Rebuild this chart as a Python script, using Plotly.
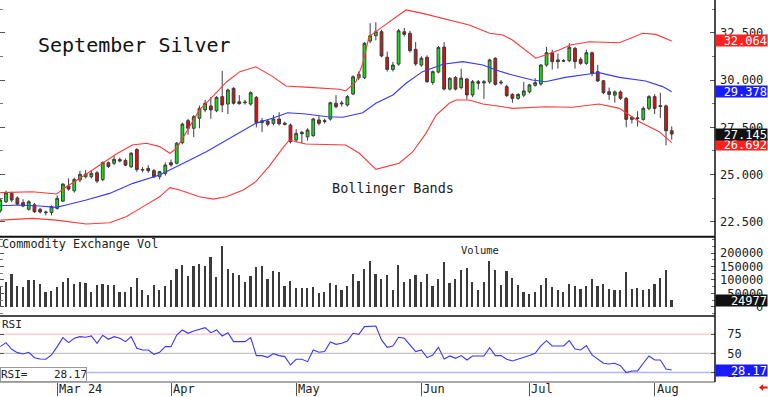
import plotly.graph_objects as go

# ---------------- data ----------------
open_ = [23.10, 23.57, 24.01, 23.77, 23.52, 23.17, 23.41, 23.17, 22.99, 23.00,
         23.22, 23.60, 24.40, 24.15, 24.72, 24.89, 24.89, 25.10, 24.74, 25.63,
         25.60, 25.80, 25.75, 25.42, 26.33, 25.24, 25.33, 25.21, 24.89, 25.07,
         25.63, 25.60, 26.69, 27.85, 27.45, 27.98, 28.42, 28.63, 28.38, 29.12,
         28.73, 29.56, 28.85, 28.80, 28.73, 29.08, 27.75, 27.83, 27.71, 27.94,
         27.72, 27.62, 26.83, 27.24, 27.00, 27.06, 27.89, 27.80, 27.94, 28.77,
         28.74, 28.68, 29.26, 30.12, 30.12, 32.06, 32.34, 32.55, 31.20, 30.56,
         30.84, 32.55, 32.47, 31.62, 30.79, 31.20, 29.87, 30.42, 31.74, 29.52,
         30.13, 29.60, 30.05, 29.21, 29.91, 29.84, 29.90, 31.15, 29.84, 29.65,
         29.24, 29.03, 29.20, 29.38, 29.72, 29.79, 30.79, 31.44, 31.06, 31.03,
         31.02, 31.67, 31.09, 30.88, 31.44, 30.44, 29.96, 29.38, 29.20, 29.37,
         29.03, 27.92, 28.00, 27.92, 28.50, 29.12, 28.65, 28.63, 27.32]
high = [23.75, 24.15, 24.10, 23.85, 23.70, 23.65, 23.50, 23.25, 23.10, 23.38,
        23.90, 24.55, 24.80, 24.85, 25.20, 25.25, 25.20, 25.20, 25.70, 25.70,
        25.98, 25.90, 25.85, 26.20, 26.40, 25.40, 25.50, 25.30, 25.20, 25.65,
        25.80, 26.72, 27.75, 27.95, 28.15, 28.65, 28.95, 29.10, 29.15, 30.48,
        29.55, 29.62, 29.20, 28.95, 29.40, 29.15, 28.00, 27.90, 28.15, 28.30,
        27.80, 27.70, 27.40, 27.30, 27.45, 28.00, 28.10, 27.95, 28.85, 29.20,
        28.90, 29.20, 30.25, 30.45, 32.00, 33.00, 33.05, 32.65, 31.50, 30.95,
        32.70, 32.75, 32.60, 32.00, 31.25, 31.30, 30.50, 31.80, 32.00, 30.15,
        30.20, 30.60, 30.10, 30.00, 30.00, 30.00, 31.12, 31.20, 30.00, 29.75,
        29.30, 29.30, 29.90, 29.80, 30.10, 30.85, 31.75, 31.60, 31.40, 31.10,
        31.95, 31.75, 31.20, 31.60, 31.50, 30.80, 30.00, 29.60, 29.45, 29.45,
        29.10, 28.10, 28.35, 28.60, 29.20, 29.25, 29.32, 28.70, 27.55]
low = [23.00, 23.50, 23.55, 23.40, 23.28, 23.10, 22.98, 22.95, 22.85, 22.85,
       23.15, 23.55, 24.15, 24.05, 24.60, 24.80, 24.80, 24.55, 24.65, 25.35,
       25.50, 25.65, 25.45, 25.35, 25.15, 25.12, 25.10, 24.82, 24.75, 24.95,
       25.42, 25.55, 26.60, 27.10, 26.98, 27.45, 28.30, 27.95, 28.30, 28.30,
       28.20, 28.70, 28.70, 28.70, 28.65, 27.50, 27.25, 27.55, 27.60, 27.60,
       27.60, 26.65, 26.70, 26.65, 26.80, 27.00, 27.60, 27.70, 27.85, 28.50,
       28.60, 28.60, 29.20, 30.00, 30.05, 31.95, 32.10, 31.20, 30.45, 30.45,
       30.75, 32.30, 31.45, 30.75, 30.70, 29.85, 29.75, 30.35, 29.45, 29.45,
       29.45, 29.50, 28.98, 29.10, 29.50, 29.00, 29.80, 29.70, 29.75, 29.10,
       28.80, 28.95, 29.10, 29.30, 29.65, 29.70, 30.70, 30.55, 30.60, 30.95,
       30.95, 30.60, 30.80, 30.80, 30.20, 29.90, 29.25, 28.95, 28.80, 28.95,
       27.50, 27.70, 27.55, 27.85, 28.40, 28.20, 28.00, 26.55, 26.85]
close = [23.66, 24.05, 23.66, 23.45, 23.34, 23.57, 23.04, 23.03, 23.02, 23.31,
         23.75, 24.50, 24.24, 24.75, 25.02, 25.03, 25.07, 24.66, 25.64, 25.43,
         25.81, 25.72, 25.50, 26.13, 25.27, 25.27, 25.21, 24.89, 25.16, 25.51,
         25.51, 26.66, 27.67, 27.45, 28.06, 28.50, 28.77, 28.42, 29.08, 28.68,
         29.47, 28.77, 28.75, 28.83, 29.33, 27.75, 27.85, 27.66, 27.94, 27.69,
         27.66, 26.74, 27.18, 27.16, 27.36, 27.94, 27.71, 27.85, 28.80, 28.59,
         28.78, 29.12, 30.17, 30.30, 31.94, 32.34, 32.55, 31.27, 30.56, 30.79,
         32.60, 32.41, 31.55, 30.85, 31.15, 29.91, 30.44, 31.72, 29.52, 30.09,
         29.52, 30.10, 29.21, 29.91, 29.83, 29.91, 31.06, 29.77, 29.88, 29.18,
         29.03, 29.24, 29.42, 29.74, 29.86, 30.79, 31.44, 30.97, 30.97, 31.00,
         31.73, 30.97, 30.88, 31.44, 30.35, 29.95, 29.33, 29.24, 29.37, 29.03,
         27.92, 28.03, 27.97, 28.50, 29.12, 28.50, 28.60, 27.32, 27.145]
volume = [80000, 93000, 124000, 78000, 75000, 100000, 100000, 87000, 56000, 58000,
          75000, 93000, 108000, 87000, 93000, 90000, 56000, 83000, 87000, 81000,
          81000, 56000, 56000, 75000, 109000, 65000, 44000, 81000, 65000, 78000,
          102000, 143000, 156000, 116000, 153000, 162000, 153000, 185000, 112000, 226000,
          143000, 127000, 121000, 93000, 114000, 149000, 152000, 106000, 133000, 131000,
          78000, 96000, 71000, 71000, 71000, 75000, 53000, 56000, 90000, 83000,
          62000, 77000, 124000, 96000, 141000, 170000, 122000, 103000, 118000, 62000,
          156000, 93000, 106000, 118000, 93000, 122000, 78000, 106000, 168000, 91000,
          106000, 137000, 146000, 93000, 62000, 93000, 170000, 139000, 81000, 134000,
          109000, 81000, 56000, 50000, 56000, 83000, 109000, 75000, 62000, 56000,
          85000, 77000, 68000, 77000, 104000, 77000, 85000, 68000, 62000, 62000,
          129000, 68000, 72000, 62000, 68000, 87000, 108000, 139000, 24977]
rsi = [58.7, 63.9, 55.2, 50.9, 49.1, 51.3, 44.3, 42.6, 42.2, 47.8,
       58.7, 70.4, 63.9, 69.6, 71.7, 70.9, 72.6, 63.0, 73.5, 68.3,
       71.7, 69.6, 65.2, 71.7, 56.5, 54.3, 54.3, 48.7, 51.3, 58.7,
       58.7, 73.9, 80.4, 76.1, 79.1, 81.3, 83.5, 76.9, 80.4, 72.6,
       76.9, 65.2, 65.2, 65.2, 70.4, 47.0, 47.0, 44.8, 49.6, 47.0,
       45.7, 34.8, 42.2, 42.2, 39.1, 54.3, 51.3, 52.2, 64.8, 61.7,
       63.0, 66.1, 76.1, 74.8, 84.8, 85.6, 85.6, 67.4, 57.8, 59.6,
       70.9, 69.6, 60.9, 52.2, 54.3, 44.3, 47.8, 57.8, 42.6, 46.5,
       43.5, 47.0, 41.3, 46.5, 46.5, 46.5, 57.4, 47.0, 47.0, 42.2,
       40.0, 42.2, 44.3, 47.0, 50.0, 59.6, 66.5, 59.6, 59.6, 59.6,
       66.5, 55.6, 54.3, 60.0, 47.8, 42.2, 37.0, 36.1, 37.0, 33.9,
       24.8, 27.0, 27.0, 37.0, 46.5, 41.3, 41.3, 29.6, 28.17]

# Bollinger bands (bar position, price)
bb_upper_pos = [0, 5.6, 9.9, 11.6, 14.4, 17.4, 20.4, 23.2, 25.7, 28.0, 29.8, 31.0, 32.7, 35.0,
                37.3, 39.8, 42.1, 44.9, 47.9, 50.2, 54.3, 59.6, 60.7, 62.5, 63.7, 64.8, 67.2,
                69.5, 71.3, 74.2, 77.8, 82.4, 86.0, 88.3, 90.0, 94.1, 95.8, 98.2, 100.2,
                103.5, 108.8, 112.9, 115.2, 118]
bb_upper = [24.05, 24.10, 23.98, 24.36, 24.89, 25.51, 26.09, 26.57, 26.66, 26.48, 26.13, 26.39,
            27.27, 28.42, 29.12, 29.91, 30.44, 30.70, 30.18, 29.68, 29.61, 29.51, 29.43, 29.91,
            30.88, 32.29, 32.82, 33.34, 33.70, 33.52, 33.26, 32.91, 32.47, 32.38, 32.11, 31.15,
            31.32, 31.58, 31.85, 32.02, 31.97, 32.47, 32.41, 32.064]
bb_mid_pos = [0, 3.3, 6.9, 9.8, 11.6, 15.1, 19.2, 23.3, 28.0, 30.3, 32.7, 36.2, 39.7, 43.3,
              44.9, 47.8, 50.5, 53.7, 57.5, 60.2, 63.7, 66.0, 69.0, 71.3, 74.2, 77.8, 81.3,
              84.8, 87.1, 90.0, 93.5, 95.8, 99.3, 103.5, 105.2, 108.8, 113.4, 116.4, 118]
bb_mid = [23.36, 23.40, 23.34, 23.27, 23.40, 23.66, 24.01, 24.54, 24.98, 25.34, 25.68, 26.21,
          26.83, 27.45, 27.71, 27.98, 28.27, 28.20, 28.06, 28.03, 28.27, 28.77, 29.21, 29.83,
          30.44, 30.83, 30.97, 30.79, 30.53, 30.26, 30.00, 29.91, 30.14, 30.32, 30.39, 30.14,
          29.95, 29.65, 29.378]
bb_lower_pos = [0, 5.7, 9.8, 15.1, 19.2, 22.1, 25.1, 28.0, 29.8, 31.5, 35.0, 37.4, 39.7, 42.7,
                44.9, 47.2, 49.6, 50.8, 53.7, 60.7, 63.1, 66.0, 70.1, 72.5, 74.8, 76.6, 78.9,
                80.1, 82.4, 84.8, 88.3, 90.0, 95.8, 100.5, 105.2, 108.8, 112.3, 115.8, 118]
bb_lower = [22.60, 22.69, 22.60, 22.39, 22.46, 22.78, 23.31, 23.83, 24.31, 24.19, 23.83, 23.71,
            23.83, 24.19, 24.63, 25.42, 26.39, 26.83, 26.62, 26.57, 26.13, 25.28, 25.60, 26.21,
            27.18, 28.15, 28.77, 28.94, 28.94, 28.73, 28.59, 28.50, 28.59, 28.56, 28.73, 28.50,
            27.80, 27.27, 26.692]

month_pos = [10, 30, 52, 74, 93, 115]
month_labels = ["Mar 24", "Apr", "May", "Jun", "Jul", "Aug"]

price_ticks = [22.5, 25.0, 27.5, 30.0, 32.5]
price_ticktext = ["22.500", "25.000", "27.500", "30.000", "32.500"]
vol_ticks = [0, 50000, 100000, 150000, 200000]
vol_ticktext = ["\u00a0\u00a0\u00a0\u00a0\u00a00", "\u00a050000", "100000", "150000", "200000"]
rsi_ticks = [25, 50, 75]
rsi_ticktext = ["\u00a025", "\u00a050", "\u00a075"]

bars = list(range(len(close)))

# ---------------- figure ----------------
MONO = "DejaVu Sans Mono"
W, H = 768, 397
ML, MR, MT, MB = 0, 53, 0, 15
PW = W - ML - MR
PH = H - MT - MB
price_bot = (PH - 236.7) / PH
vol_bot = (PH - 316.0) / PH

fig = go.Figure()

fig.add_trace(go.Scatter(x=bb_upper_pos, y=bb_upper, mode="lines",
                         line=dict(color="#ff3838", width=1.1), xaxis="x", yaxis="y",
                         hoverinfo="skip", showlegend=False))
fig.add_trace(go.Scatter(x=bb_lower_pos, y=bb_lower, mode="lines",
                         line=dict(color="#ff3838", width=1.1), xaxis="x", yaxis="y",
                         hoverinfo="skip", showlegend=False))
fig.add_trace(go.Scatter(x=bb_mid_pos, y=bb_mid, mode="lines",
                         line=dict(color="#3838ff", width=1.1), xaxis="x", yaxis="y",
                         hoverinfo="skip", showlegend=False))
fig.add_trace(go.Candlestick(
    x=bars, open=open_, high=high, low=low, close=close,
    increasing=dict(fillcolor="#14e014", line=dict(color="#3c3c3c", width=1)),
    decreasing=dict(fillcolor="#dd1010", line=dict(color="#3c3c3c", width=1)),
    whiskerwidth=0, xaxis="x", yaxis="y", showlegend=False))

fig.add_trace(go.Bar(x=bars, y=volume, width=0.3, marker=dict(color="#3a3a3a", line=dict(width=0)),
                     xaxis="x2", yaxis="y2", showlegend=False))

fig.add_trace(go.Scatter(x=bars, y=rsi, mode="lines", line=dict(color="#3838ff", width=1.1),
                         xaxis="x3", yaxis="y3", showlegend=False))

xr = [-0.3 / 5.69, (715 - 0.3) / 5.69]
common_x = dict(range=xr, showgrid=False, zeroline=False, showline=False, fixedrange=True)
tickfont = dict(family=MONO, size=12, color="#222222")

fig.update_layout(
    width=W, height=H,
    margin=dict(l=ML, r=MR, t=MT, b=MB),
    paper_bgcolor="white", plot_bgcolor="white",
    showlegend=False, bargap=0,
    xaxis=dict(**common_x, domain=[0, 1], anchor="y", showticklabels=False, ticks="",
               rangeslider=dict(visible=False)),
    xaxis2=dict(**common_x, domain=[0, 1], anchor="y2", matches="x", showticklabels=False, ticks=""),
    xaxis3=dict(**common_x, domain=[0, 1], anchor="y3", matches="x", showticklabels=False,
                ticks="outside", ticklen=13, tickwidth=1, tickcolor="#555555",
                tickmode="array", tickvals=month_pos),
    yaxis=dict(domain=[price_bot, 1], range=[30 - 156.7 / 18.93, 30 + 80 / 18.93], side="right",
               showgrid=False, zeroline=False, tickmode="array", tickvals=price_ticks,
               ticktext=price_ticktext, ticks="inside", ticklen=5, tickcolor="#555555",
               mirror="ticks", showline=False, tickfont=tickfont, ticklabelstandoff=4,
               minor=dict(tickmode="linear", tick0=21.25, dtick=2.5, ticks="inside", ticklen=3,
                          tickcolor="#777777"), fixedrange=True),
    yaxis2=dict(domain=[vol_bot, price_bot], range=[-(316 - 306.7) / 0.268e-3, (306.7 - 236.7) / 0.268e-3],
                side="right", showgrid=False, zeroline=False, tickmode="array", tickvals=vol_ticks,
                ticktext=vol_ticktext, ticks="inside", ticklen=4, tickcolor="#555555",
                mirror="ticks", showline=False, tickfont=tickfont, ticklabelstandoff=4,
                minor=dict(tickmode="linear", tick0=0, dtick=25000, ticks="inside", ticklen=3,
                           tickcolor="#777777"), fixedrange=True),
    yaxis3=dict(domain=[0, vol_bot], range=[50 - (PH - 353.3) / 0.767, 50 + (353.3 - 316) / 0.767],
                side="right", showgrid=False, zeroline=False, tickmode="array", tickvals=rsi_ticks,
                ticktext=rsi_ticktext, ticks="inside", ticklen=4, tickcolor="#555555",
                mirror="ticks", showline=False, tickfont=tickfont, ticklabelstandoff=4,
                fixedrange=True),
)


def px_x(x):
    return (x - ML) / PW


def px_y(y):
    return (PH - (y - MT)) / PH


# small red left arrow at the bottom right corner
arrow = [(759, 387.5), (763, 384.3), (763, 386.4), (767.5, 386.4), (767.5, 388.6), (763, 388.6),
         (763, 390.7)]
arrow_path = "M " + " L ".join(f"{px_x(a):.5f},{px_y(b):.5f}" for a, b in arrow) + " Z"

# panel borders and reference levels
shapes = [
    dict(type="line", xref="paper", yref="paper", x0=0, x1=1, y0=price_bot, y1=price_bot,
         line=dict(color="#111111", width=2)),
    dict(type="line", xref="paper", yref="paper", x0=0, x1=1, y0=vol_bot, y1=vol_bot,
         line=dict(color="#111111", width=1.5)),
    dict(type="line", xref="paper", yref="paper", x0=0, x1=1, y0=0, y1=0,
         line=dict(color="#555555", width=1)),
    dict(type="line", xref="paper", yref="paper", x0=1, x1=1, y0=0, y1=1,
         line=dict(color="#111111", width=1.5)),
    dict(type="line", xref="paper", yref="y3", x0=0, x1=1, y0=75, y1=75,
         line=dict(color="#ffb4b4", width=1), layer="below"),
    dict(type="line", xref="paper", yref="y3", x0=0, x1=1, y0=50, y1=50,
         line=dict(color="#b4b4b4", width=1), layer="below"),
    dict(type="line", xref="paper", yref="y3", x0=0, x1=1, y0=25, y1=25,
         line=dict(color="#b4b4ff", width=1.5), layer="below"),
    dict(type="path", xref="paper", yref="paper", path=arrow_path,
         fillcolor="#ee1111", line=dict(width=0)),
]
fig.update_layout(shapes=shapes)

ann = []
ann.append(dict(text="September Silver", xref="paper", yref="paper", x=px_x(36), y=px_y(45),
                xanchor="left", yanchor="middle", showarrow=False,
                font=dict(family=MONO, size=20, color="#111111")))
ann.append(dict(text="Bollinger Bands", xref="paper", yref="paper", x=px_x(330), y=px_y(187.5),
                xanchor="left", yanchor="middle", showarrow=False,
                font=dict(family=MONO, size=13.5, color="#222222")))
ann.append(dict(text="Commodity Exchange Vol", xref="paper", yref="paper", x=0.0, y=px_y(244.5),
                xanchor="left", yanchor="middle", showarrow=False,
                font=dict(family=MONO, size=11.8, color="#222222")))
ann.append(dict(text="Volume", xref="paper", yref="paper", x=px_x(459), y=px_y(250),
                xanchor="left", yanchor="middle", showarrow=False,
                font=dict(family=MONO, size=10.5, color="#222222")))
ann.append(dict(text="RSI", xref="paper", yref="paper", x=0.0, y=px_y(324),
                xanchor="left", yanchor="middle", showarrow=False,
                font=dict(family=MONO, size=11, color="#222222")))
ann.append(dict(text="RSI=\u00a0\u00a0\u00a0\u00a0" + f"{rsi[-1]:.2f}", xref="paper", yref="paper",
                x=0.0, y=0.0, xanchor="left", yanchor="bottom", showarrow=False,
                bgcolor="white", bordercolor="#999999", borderwidth=1, borderpad=0,
                width=85, height=13, align="left",
                font=dict(family=MONO, size=11, color="#222222")))

# month labels
for p, lab in zip(month_pos, month_labels):
    ann.append(dict(text=lab, xref="x3", yref="paper", x=p, y=px_y(389), xanchor="left",
                    yanchor="middle", xshift=1, showarrow=False, borderpad=0,
                    font=dict(family=MONO, size=12, color="#222222")))

# last-value tags on the right axis
def tag(val, txt, yref, bg, yshift=0):
    return dict(text=txt, xref="paper", yref=yref, x=1, y=val, xanchor="left", yanchor="middle",
                xshift=0, yshift=yshift, showarrow=False, bgcolor=bg, borderpad=0,
                width=51, height=11, align="right",
                font=dict(family=MONO, size=12, color="white"))

ann.append(tag(bb_upper[-1], f"{bb_upper[-1]:.3f}", "y", "#ff2020"))
ann.append(tag(bb_mid[-1], f"{bb_mid[-1]:.3f}", "y", "#1a1aff"))
ann.append(tag(bb_lower[-1], f"{bb_lower[-1]:.3f}", "y", "#ff2020", yshift=-2))
ann.append(tag(close[-1], f"{close[-1]:.3f}", "y", "#111111"))
ann.append(tag(volume[-1], f"{volume[-1]}", "y2", "#111111"))
ann.append(tag(rsi[-1], f"{rsi[-1]:.2f}", "y3", "#1a1aff"))

fig.update_layout(annotations=ann)

fig.write_html("out.html", config={"displayModeBar": False},
               post_script="document.body.style.margin='0';document.body.style.padding='0';")
